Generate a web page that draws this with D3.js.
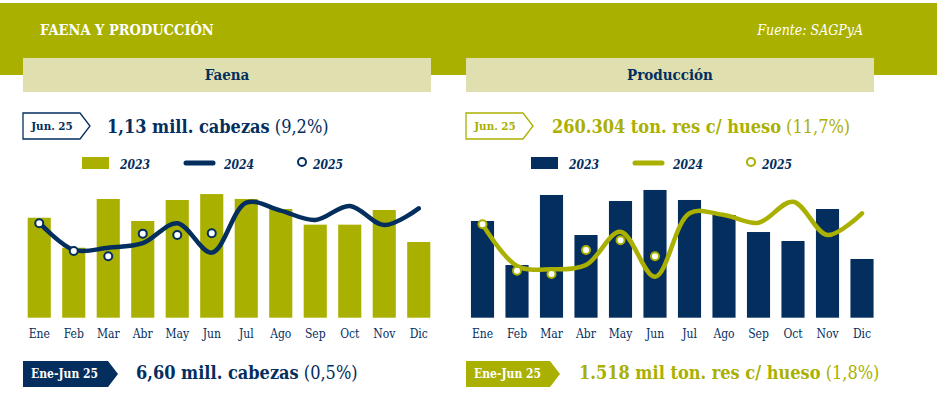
<!DOCTYPE html>
<html>
<head>
<meta charset="utf-8">
<script src="https://cdn.jsdelivr.net/npm/d3@7"></script>
<style>
  body { margin: 0; background: #fff; }
  svg text { font-family: "DejaVu Serif Condensed", "DejaVu Serif", serif; }
</style>
</head>
<body>
<svg id="chart" width="937" height="395"></svg>
<script>
var months = ['Ene','Feb','Mar','Abr','May','Jun','Jul','Ago','Sep','Oct','Nov','Dic'];

// Faena (miles de cabezas)
var faena2023 = [1190,1043,1282,1174,1277,1306,1282,1233,1156,1156,1228,1071];
var faena2024 = [1166,1032,1043,1065,1163,1019,1264,1225,1179,1248,1154,1236];
var faena2025 = [1163,1027,1001,1112,1105,1114];

// Produccion (miles de ton. res c/ hueso)
var prod2023 = [307.5,248.5,342.3,288.7,334.2,349,335.6,315.5,292.7,280.7,323.5,256.6];
var prod2024 = [303,247.2,242.8,248.5,293.1,232.9,317.8,315.5,305.2,333.3,288.7,317.8];
var prod2025 = [303,240.9,236.5,268.6,281.6,260.2];

var olive = '#aab000';
var navy = '#032e5e';
var beige = '#e0dfb0';

var svg = d3.select('#chart');

// header band
svg.append('rect').attr('x',0).attr('y',3).attr('width',937).attr('height',72).attr('fill',olive);
svg.append('text').attr('x',40).attr('y',35).attr('fill','#fff').attr('font-weight','bold')
    .attr('font-size',14.5).text('FAENA Y PRODUCCIÓN');
svg.append('text').attr('x',863).attr('y',35).attr('fill','#fff').attr('font-style','italic')
    .attr('font-size',14).attr('text-anchor','end').text('Fuente: SAGPyA');

function panel(opt){
    var g = svg.append('g');
    g.append('rect').attr('x',opt.x0).attr('y',58).attr('width',opt.x1-opt.x0).attr('height',34).attr('fill',beige);
    g.append('text').attr('x',(opt.x0+opt.x1)/2).attr('y',80).attr('text-anchor','middle')
        .attr('fill',navy).attr('font-weight','bold').attr('font-size',15).text(opt.title);

    // top callout (outlined arrow)
    var bx = opt.x0, by = 113, bh = 26;
    g.append('path').attr('d','M'+bx+','+by+'H'+(bx+57)+'L'+(bx+67)+','+(by+bh/2)+'L'+(bx+57)+','+(by+bh)+'H'+bx+'Z')
        .attr('fill','#fff').attr('stroke',opt.topColor).attr('stroke-width',1.3);
    g.append('text').attr('x',bx+29).attr('y',by+17).attr('text-anchor','middle').attr('fill',opt.topColor)
        .attr('font-weight','bold').attr('font-size',11.5).text('Jun. 25');
    var t = g.append('text').attr('x',opt.topTextX).attr('y',133).attr('fill',opt.topColor).attr('font-size',18);
    t.append('tspan').attr('font-weight','bold').text(opt.topMain);
    t.append('tspan').text(' '+opt.topPct);

    // legend
    var lx = opt.legendX;
    g.append('rect').attr('x',lx).attr('y',157).attr('width',27).attr('height',12).attr('fill',opt.barColor);
    g.append('text').attr('x',lx+38).attr('y',169).attr('fill',navy).attr('font-weight','bold')
        .attr('font-style','italic').attr('font-size',12).text('2023');
    g.append('line').attr('x1',lx+104).attr('x2',lx+131).attr('y1',163).attr('y2',163)
        .attr('stroke',opt.lineColor).attr('stroke-width',5).attr('stroke-linecap','round');
    g.append('text').attr('x',lx+142).attr('y',169).attr('fill',navy).attr('font-weight','bold')
        .attr('font-style','italic').attr('font-size',12).text('2024');
    g.append('circle').attr('cx',lx+220).attr('cy',162).attr('r',4).attr('fill','#fff')
        .attr('stroke',opt.lineColor).attr('stroke-width',2);
    g.append('text').attr('x',lx+231).attr('y',169).attr('fill',navy).attr('font-weight','bold')
        .attr('font-style','italic').attr('font-size',12).text('2025');

    // scales
    var x = d3.scaleBand().domain(months).range(opt.xRange).paddingInner(0.33).paddingOuter(0.165);
    var y = d3.scaleLinear().domain(opt.yDomain).range([317.7, opt.yTop]);

    g.append('g').selectAll('rect').data(opt.bars).enter().append('rect')
        .attr('x', function(d,i){ return x(months[i]); })
        .attr('width', x.bandwidth())
        .attr('y', function(d){ return y(d); })
        .attr('height', function(d){ return 317.7 - y(d); })
        .attr('fill', opt.barColor);

    var line = d3.line()
        .x(function(d,i){ return x(months[i]) + x.bandwidth()/2; })
        .y(function(d){ return y(d); })
        .curve(d3.curveCatmullRom);
    g.append('path').datum(opt.line).attr('d', line).attr('fill','none')
        .attr('stroke', opt.lineColor).attr('stroke-width', 4.5).attr('stroke-linecap','round');

    g.append('g').selectAll('circle').data(opt.points).enter().append('circle')
        .attr('cx', function(d,i){ return x(months[i]) + x.bandwidth()/2; })
        .attr('cy', function(d){ return y(d); })
        .attr('r', 4).attr('fill','#fff').attr('stroke', opt.lineColor).attr('stroke-width', 2);

    var ax = g.append('g').attr('transform','translate(0,317.7)')
        .call(d3.axisBottom(x).tickSize(0).tickPadding(12));
    ax.select('.domain').remove();
    ax.selectAll('text').attr('fill', navy).attr('font-size', 12)
        .attr('font-family','"DejaVu Serif Condensed", "DejaVu Serif", serif');

    // bottom callout (filled arrow)
    var cy = 361, ch = 26;
    g.append('path').attr('d','M'+bx+','+cy+'H'+(bx+opt.bottomW)+'L'+(bx+opt.bottomW+10)+','+(cy+ch/2)+'L'+(bx+opt.bottomW)+','+(cy+ch)+'H'+bx+'Z')
        .attr('fill', opt.bottomColor);
    g.append('text').attr('x',bx+8).attr('y',cy+17).attr('fill','#fff').attr('font-weight','bold')
        .attr('font-size',12).text('Ene-Jun 25');
    var b = g.append('text').attr('x',opt.bottomTextX).attr('y',379).attr('fill',opt.bottomColor).attr('font-size',18);
    b.append('tspan').attr('font-weight','bold').text(opt.bottomMain);
    b.append('tspan').text(' '+opt.bottomPct);
}

panel({
    x0: 23, x1: 431, title: 'Faena',
    topColor: navy, topTextX: 107, topMain: '1,13 mill. cabezas', topPct: '(9,2%)',
    legendX: 82, barColor: olive, lineColor: navy,
    xRange: [22, 436], yDomain: [700, 1400], yTop: 174.9,
    bars: faena2023, line: faena2024, points: faena2025,
    bottomColor: navy, bottomW: 85, bottomTextX: 136, bottomMain: '6,60 mill. cabezas', bottomPct: '(0,5%)'
});

panel({
    x0: 466, x1: 874, title: 'Producción',
    topColor: olive, topTextX: 552, topMain: '260.304 ton. res c/ hueso', topPct: '(11,7%)',
    legendX: 531, barColor: navy, lineColor: olive,
    xRange: [465.25, 879.25], yDomain: [178, 378], yTop: 168.3,
    bars: prod2023, line: prod2024, points: prod2025,
    bottomColor: olive, bottomW: 84, bottomTextX: 579, bottomMain: '1.518 mil ton. res c/ hueso', bottomPct: '(1,8%)'
});
</script>
</body>
</html>
